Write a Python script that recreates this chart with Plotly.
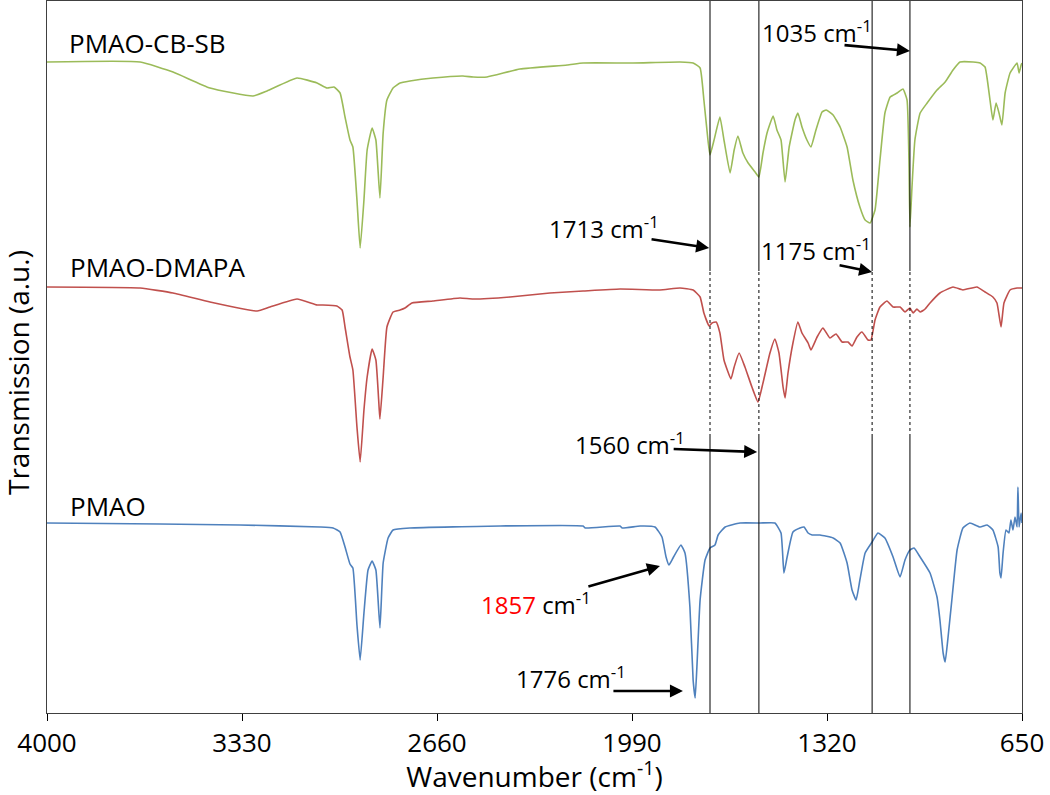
import plotly.graph_objects as go

# ---------------- data ----------------
tick_vals = [4000, 3330, 2660, 1990, 1320, 650]

wn_cbsb = [4000, 3680, 3567, 3440, 3292, 3244, 3141, 3072, 3038, 3014, 2993, 2976, 2959, 2949, 2935, 2924,
           2911, 2900, 2883, 2870, 2856, 2845, 2832, 2811, 2787, 2753, 2674, 2571, 2536, 2488, 2375, 2213,
           2158, 1987, 1825, 1780, 1756, 1743, 1729, 1722, 1708, 1688, 1674, 1653, 1639, 1626, 1609, 1591,
           1567, 1554, 1540, 1526, 1505, 1492, 1478, 1464, 1450, 1430, 1420, 1406, 1389, 1375, 1358, 1337,
           1323, 1299, 1275, 1251, 1231, 1207, 1189, 1172, 1155, 1138, 1121, 1103, 1079, 1059, 1045, 1038,
           1035, 1028, 1018, 1000, 976, 942, 914, 887, 863, 818, 794, 777, 760, 750, 739, 729, 719, 708,
           691, 667, 660, 653, 650]
t_cbsb = [651, 651, 641, 625, 617, 622, 635, 630, 625, 626, 620, 596, 573, 566, 513, 465,
          513, 563, 585, 573, 515, 580, 613, 625, 630, 632, 635, 637, 636, 636, 644, 648,
          650, 650, 651, 650, 645, 613, 573, 558, 573, 596, 573, 540, 563, 577, 560, 550,
          541, 536, 560, 580, 597, 583, 573, 531, 566, 593, 600, 586, 573, 566, 583, 601,
          603, 598, 586, 566, 533, 506, 493, 490, 503, 553, 600, 616, 620, 624, 613, 546,
          486, 526, 573, 600, 610, 623, 631, 643, 651, 651, 650, 646, 613, 593, 610, 600, 588, 620,
          640, 650, 640, 648, 650]

wn_dmapa = [4000, 3680, 3567, 3440, 3278, 3234, 3141, 3072, 3052, 3004, 2986, 2976, 2959, 2949, 2935, 2924,
            2911, 2900, 2883, 2870, 2859, 2856, 2845, 2832, 2811, 2787, 2770, 2746, 2674, 2581, 2536, 2409,
            2272, 2158, 2031, 1894, 1825, 1780, 1756, 1743, 1725, 1715, 1701, 1688, 1674, 1650, 1639, 1622,
            1602, 1578, 1557, 1540, 1516, 1499, 1485, 1471, 1464, 1454, 1437, 1420, 1406, 1385, 1375, 1354,
            1334, 1310, 1289, 1268, 1248, 1234, 1217, 1200, 1179, 1169, 1155, 1138, 1114, 1093, 1069, 1052,
            1035, 1024, 1011, 1000, 983, 966, 932, 887, 853, 805, 777, 750, 736, 722, 712, 691, 667, 650]
t_dmapa = [426, 425, 420, 411, 402, 406, 414, 408, 408, 407, 403, 386, 356, 343, 286, 251,
           303, 336, 364, 353, 306, 294, 336, 386, 401, 403, 405, 410, 412, 415, 414, 416,
           420, 422, 424, 423, 425, 423, 416, 400, 387, 390, 391, 380, 353, 334, 346, 360,
           346, 326, 311, 330, 360, 374, 360, 326, 315, 340, 370, 391, 380, 370, 363, 376,
           385, 375, 379, 371, 371, 367, 376, 381, 373, 373, 393, 406, 412, 406, 406, 401,
           405, 400, 404, 401, 404, 410, 420, 426, 423, 426, 421, 416, 410, 386, 410, 423, 425, 425]

wn_pmao = [4000, 3612, 3337, 3062, 3017, 2993, 2976, 2959, 2949, 2935, 2924, 2911, 2897, 2883, 2870, 2856,
           2845, 2828, 2811, 2753, 2443, 2158, 2151, 2031, 2024, 1962, 1911, 1887, 1873, 1863, 1849, 1822,
           1808, 1791, 1780, 1773, 1767, 1756, 1739, 1722, 1705, 1694, 1670, 1619, 1550, 1499, 1478, 1468,
           1457, 1437, 1413, 1399, 1385, 1371, 1344, 1299, 1275, 1251, 1234, 1220, 1207, 1189, 1165, 1145,
           1121, 1093, 1069, 1052, 1035, 1021, 1000, 966, 942, 932, 921, 914, 904, 890, 873, 853, 829, 794,
           770, 750, 732, 726, 722, 715, 705, 695, 688, 681, 674, 667, 664, 660, 653, 650]
t_pmao = [190, 189, 188, 186, 185, 181, 166, 149, 145, 88, 53, 100, 143, 152, 143, 85,
          150, 175, 183, 185, 187, 187, 185, 187, 185, 187, 186, 176, 156, 148, 155, 168,
          160, 106, 33, 15, 46, 113, 153, 165, 168, 178, 186, 190, 190, 190, 180, 140,
          156, 181, 185, 186, 180, 178, 178, 175, 170, 150, 123, 113, 133, 160, 171, 180,
          175, 156, 136, 153, 163, 165, 156, 140, 116, 93, 60, 51, 76, 116, 163, 185, 190, 186,
          188, 183, 166, 140, 135, 160, 183, 180, 193, 183, 196, 186, 226, 186, 200, 190]

series_names = ["PMAO-CB-SB", "PMAO-DMAPA", "PMAO"]
series_colors = ["#9BBB59", "#C0504D", "#4F81BD"]

# marker lines (wavenumber) and the levels where they turn dotted
marker_wn = [1722, 1554, 1165, 1035]
dotted_from, dotted_to = 276, 442
y_top = 712

# peak annotations: (text, head wn, head T, tail wn, tail T, text wn, text T)
peak_notes = [
    ("1035 cm<sup>-1</sup>", 1035, 662, 1265, 668, 1354, 682),
    ("1713 cm<sup>-1</sup>", 1725, 465, 1928, 474, 2086, 486),
    ("1175 cm<sup>-1</sup>", 1165, 441, 1282, 448, 1358, 464),
    ("1560 cm<sup>-1</sup>", 1560, 261, 1852, 264, 1997, 270),
    ("<span style='color:#FF0000'>1857</span> cm<sup>-1</sup>", 1894, 147, 2145, 126, 2320, 110),
    ("1776 cm<sup>-1</sup>", 1815, 22, 2059, 22, 2200, 36),
]
label_pos = [(3931, 670), (3928, 446), (3928, 207)]
y_title_level = 340

FONT = "Open Sans"

fig = go.Figure()
for name, wn, t, col in zip(series_names, [wn_cbsb, wn_dmapa, wn_pmao],
                             [t_cbsb, t_dmapa, t_pmao], series_colors):
    fig.add_trace(go.Scatter(x=wn, y=t, mode="lines", name=name,
                             line=dict(color=col, width=1.6, shape="spline", smoothing=0.4),
                             showlegend=False))

shapes = []
for xv in marker_wn:
    shapes.append(dict(type="line", xref="x", yref="y", x0=xv, x1=xv, y0=dotted_to, y1=y_top,
                       line=dict(color="black", width=1)))
    shapes.append(dict(type="line", xref="x", yref="y", x0=xv, x1=xv, y0=dotted_from, y1=dotted_to,
                       line=dict(color="black", width=1, dash="dot")))
    shapes.append(dict(type="line", xref="x", yref="y", x0=xv, x1=xv, y0=0, y1=dotted_from,
                       line=dict(color="black", width=1)))

annotations = []
for txt, hx, hy, tx, ty, lx, ly in peak_notes:
    annotations.append(dict(x=hx, y=hy, ax=tx, ay=ty, xref="x", yref="y", axref="x", ayref="y",
                            text="", showarrow=True, arrowhead=2, arrowsize=1, arrowwidth=2.6,
                            arrowcolor="black"))
    annotations.append(dict(x=lx, y=ly, xref="x", yref="y", text=txt, showarrow=False,
                            font=dict(family=FONT, size=24, color="black")))
for name, (lx, ly) in zip(series_names, label_pos):
    annotations.append(dict(x=lx, y=ly, xref="x", yref="y", text=name, showarrow=False,
                            xanchor="left", font=dict(family=FONT, size=26, color="black")))
# y-axis title (placed as rotated text, left of the axis)
annotations.append(dict(x=-0.0297, y=y_title_level, xref="paper", yref="y", text="Transmission (a.u.)",
                        textangle=-90, showarrow=False, xanchor="center", yanchor="middle",
                        font=dict(family=FONT, size=28, color="black")))

fig.update_layout(
    width=1050, height=795,
    margin=dict(l=47, r=28, t=1, b=82, autoexpand=False),
    paper_bgcolor="white", plot_bgcolor="white",
    shapes=shapes, annotations=annotations,
    font=dict(family=FONT, color="black"),
)
fig.update_xaxes(range=[4000, 650], tickvals=tick_vals, ticktext=[str(v) for v in tick_vals],
                 ticks="outside", ticklen=7, tickcolor="black", tickfont=dict(size=26, family=FONT),
                 showline=True, linecolor="#404040", linewidth=1.3, mirror=True, showgrid=False,
                 zeroline=False, automargin=False,
                 title=dict(text="Wavenumber (cm<sup>-1</sup>)", font=dict(size=28, family=FONT),
                            standoff=4))
fig.update_yaxes(range=[0, y_top], showticklabels=False, ticks="", showgrid=False, zeroline=False,
                 showline=True, linecolor="#404040", linewidth=1.3, mirror=True, automargin=False)

fig.write_html("out.html", config={"displayModeBar": False},
               post_script="document.body.style.margin='0';")
